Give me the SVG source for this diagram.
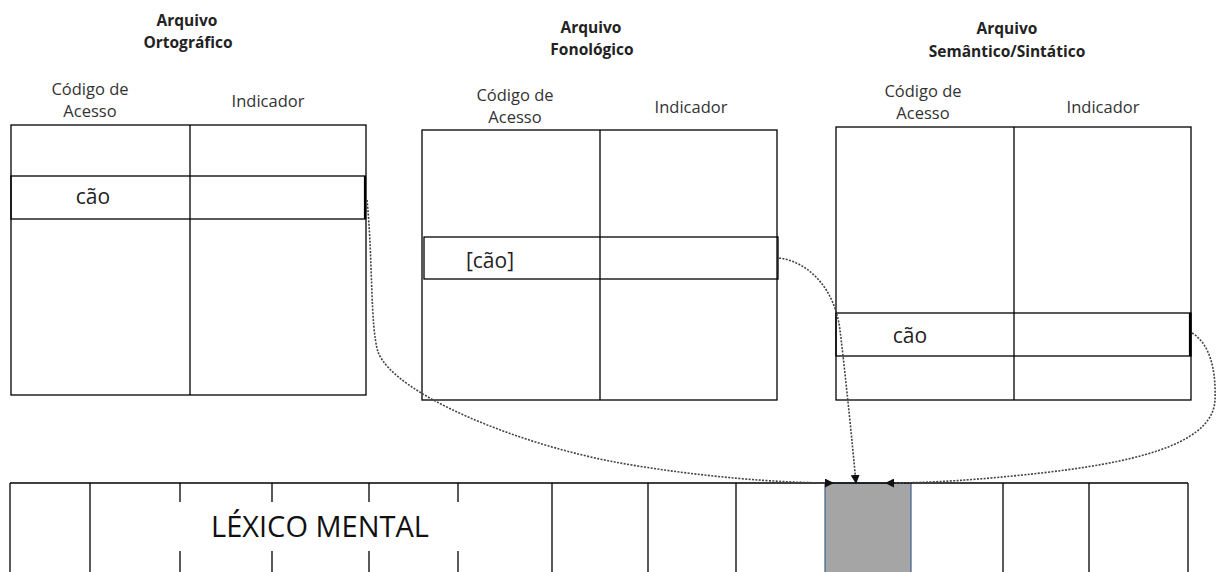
<svg xmlns="http://www.w3.org/2000/svg" width="1218" height="572" viewBox="0 0 1218 572">
<style>
.ln{fill:none;stroke:#000;stroke-width:1.3}
.thk{fill:none;stroke:#000;stroke-width:2.2}
.ttl{font-family:"Open Sans","Liberation Sans",sans-serif;font-weight:bold;font-size:15.5px;fill:#222;text-anchor:middle}
.lbl{font-family:"Open Sans","Liberation Sans",sans-serif;font-size:16.5px;fill:#333;text-anchor:middle}
.cell{font-family:"Open Sans","Liberation Sans",sans-serif;font-size:21px;fill:#222;text-anchor:middle}
.big{font-family:"Open Sans","Liberation Sans",sans-serif;font-size:29px;fill:#111;text-anchor:middle}
.con{fill:none;stroke:#444;stroke-width:1.6;stroke-dasharray:2 1.4}
</style>
<defs>
<marker id="ah" viewBox="0 0 10 10" refX="9" refY="5" markerWidth="9" markerHeight="9" markerUnits="userSpaceOnUse" orient="auto">
<path d="M0,0 L10,5 L0,10 Z" fill="#111"/>
</marker>
</defs>
<rect width="1218" height="572" fill="#fff"/>

<g id="arquivo-ortografico">
<text class="ttl" x="187" y="26">Arquivo</text>
<text class="ttl" x="188" y="48">Ortográfico</text>
<text class="lbl" x="90" y="95">Código de</text>
<text class="lbl" x="90" y="117">Acesso</text>
<text class="lbl" x="268" y="107">Indicador</text>
<rect class="ln" x="11" y="125" width="355" height="270"/>
<line class="ln" x1="190" y1="125" x2="190" y2="395"/>
<rect class="ln" x="11" y="176" width="354" height="43"/>
<line class="thk" x1="365" y1="176" x2="365" y2="219"/>
<text class="cell" x="93" y="204">cão</text>
</g>

<g id="arquivo-fonologico">
<text class="ttl" x="591" y="33">Arquivo</text>
<text class="ttl" x="592" y="55">Fonológico</text>
<text class="lbl" x="515" y="101">Código de</text>
<text class="lbl" x="515" y="123">Acesso</text>
<text class="lbl" x="691" y="113">Indicador</text>
<rect class="ln" x="422" y="130" width="355" height="270"/>
<line class="ln" x1="600" y1="130" x2="600" y2="400"/>
<rect class="ln" x="424" y="237" width="354" height="42"/>
<text class="cell" x="490" y="268">[cão]</text>
</g>

<g id="arquivo-semantico">
<text class="ttl" x="1007" y="34">Arquivo</text>
<text class="ttl" x="1007" y="57">Semântico/Sintático</text>
<text class="lbl" x="923" y="97">Código de</text>
<text class="lbl" x="923" y="119">Acesso</text>
<text class="lbl" x="1103" y="113">Indicador</text>
<rect class="ln" x="836" y="127" width="355" height="273"/>
<line class="ln" x1="1014" y1="127" x2="1014" y2="400"/>
<rect class="ln" x="836" y="313" width="355" height="43"/>
<line class="thk" x1="1190" y1="313" x2="1190" y2="356"/>
<text class="cell" x="910" y="343">cão</text>
</g>

<g id="lexico-mental">
<rect x="825" y="483" width="86" height="95" fill="#a5a5a5" stroke="#3f628c" stroke-width="1.2"/>
<line class="ln" x1="10" y1="483" x2="1188" y2="483"/>
<line class="ln" x1="10" y1="483" x2="10" y2="572"/>
<line class="ln" x1="1188" y1="483" x2="1188" y2="572"/>
<line class="ln" x1="90" y1="483" x2="90" y2="572"/>
<line class="ln" x1="552" y1="483" x2="552" y2="572"/>
<line class="ln" x1="648" y1="483" x2="648" y2="572"/>
<line class="ln" x1="736" y1="483" x2="736" y2="572"/>
<line class="ln" x1="1003" y1="483" x2="1003" y2="572"/>
<line class="ln" x1="1089" y1="483" x2="1089" y2="572"/>
<line class="ln" x1="180" y1="483" x2="180" y2="502"/>
<line class="ln" x1="180" y1="551" x2="180" y2="572"/>
<line class="ln" x1="272" y1="483" x2="272" y2="502"/>
<line class="ln" x1="272" y1="551" x2="272" y2="572"/>
<line class="ln" x1="369" y1="483" x2="369" y2="502"/>
<line class="ln" x1="369" y1="551" x2="369" y2="572"/>
<line class="ln" x1="458" y1="483" x2="458" y2="502"/>
<line class="ln" x1="458" y1="551" x2="458" y2="572"/>
<text class="big" x="320" y="537">LÉXICO MENTAL</text>
</g>

<g id="connectors">
<path class="con" d="M367,200 C373,260 370,325 378,352 C395,395 520,445 620,463 C700,477 780,483 833,483" marker-end="url(#ah)"/>
<path class="con" d="M779,258 C810,262 835,290 840,330 C846,380 852,440 856,483" marker-end="url(#ah)"/>
<path class="con" d="M1192,333 C1212,345 1216,375 1215,400 C1213,440 1150,460 1050,472 C980,480 930,483 886,483" marker-end="url(#ah)"/>
</g>
</svg>
